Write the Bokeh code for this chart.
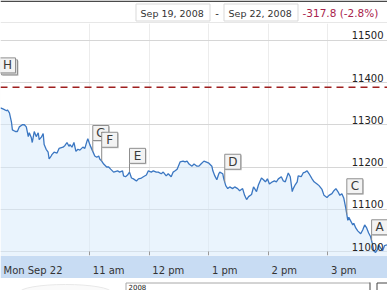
import numpy as np
from bokeh.plotting import figure
from bokeh.models import Range1d, FixedTicker, LinearAxis, Grid, Span
from bokeh.layouts import column
from bokeh.embed import file_html
from bokeh.resources import INLINE
from bokeh.core.properties import value

FONT = "DejaVu Sans"

# ---------------- data ----------------
# minutes after the 9:30 open, Mon Sep 22 2008 (Dow Jones, intraday)
minutes = [0, 3, 6, 7, 9, 11, 12, 15, 17, 19, 22, 24, 26, 28, 29, 31, 32, 34, 36, 38, 39, 41, 43, 44,
           46, 48, 49, 51, 52, 54, 57, 59, 63, 65, 67, 69, 70, 72, 74, 76, 78, 80, 83, 85, 87, 88,
           90, 93, 95, 97, 99, 100, 102, 104, 107, 109, 111, 114, 118, 120, 123, 124, 126, 128, 130,
           132, 134, 137, 139, 142, 144, 147, 149, 152, 154, 157, 159, 162, 164, 167, 169, 172, 174,
           176, 178, 181, 184, 186, 188, 190, 193, 195, 198, 200, 202, 205, 207, 210, 213, 214, 216,
           218, 220, 221, 224, 225, 227, 229, 231, 234, 236, 239, 241, 244, 246, 248, 250, 253, 255,
           258, 260, 263, 265, 267, 269, 271, 274, 276, 278, 280, 283, 285, 287, 289, 290, 292, 294,
           295, 297, 299, 300, 303, 305, 307, 309, 311, 314, 316, 319, 321, 324, 326, 329, 331, 334,
           336, 338, 340, 342, 344, 346, 348, 350, 351, 353, 355, 356, 358, 360, 363, 365, 367, 369,
           371, 373, 375, 376, 378, 380, 381, 383, 385, 387, 390]
prices = [11340, 11337, 11333, 11335, 11328, 11307, 11288, 11284, 11284, 11295, 11300, 11300, 11295,
          11272, 11281, 11270, 11258, 11284, 11272, 11281, 11265, 11270, 11279, 11253,
          11242, 11235, 11219, 11226, 11230, 11235, 11233, 11244, 11247, 11251, 11258, 11249, 11253,
          11247, 11258, 11237, 11242, 11240, 11247, 11244, 11260, 11267,
          11253, 11237, 11226, 11223, 11226, 11219, 11214, 11207, 11200, 11200, 11195, 11188, 11191,
          11188, 11191, 11179, 11177, 11181, 11188,
          11174, 11172, 11167, 11172, 11174, 11177, 11181, 11191, 11188, 11191, 11188, 11188, 11184,
          11188, 11179, 11184, 11177, 11188,
          11191, 11195, 11212, 11214, 11212, 11214, 11207, 11202, 11207, 11202, 11202, 11207, 11214,
          11212, 11209, 11202, 11191, 11179,
          11170, 11184, 11188, 11184, 11172, 11156, 11149, 11153, 11149, 11153, 11149, 11144, 11149,
          11133, 11123, 11130, 11135, 11153,
          11142, 11158, 11174, 11170, 11165, 11172, 11160, 11165, 11167, 11165, 11172, 11177, 11167,
          11165, 11179, 11186, 11177, 11142,
          11149, 11158, 11165, 11179, 11177, 11186, 11188, 11191, 11184, 11172, 11165, 11160, 11156,
          11147, 11133, 11128, 11133, 11137,
          11144, 11149, 11142, 11133, 11137, 11126, 11102, 11074, 11081, 11072, 11063, 11067, 11056,
          11049, 11042, 11051, 11063, 11056,
          11044, 11035, 11016, 11002, 10998, 11005, 11016, 11009, 11002, 11014, 11016]
prev_close = 11388.44

y_ticks = [11000, 11100, 11200, 11300, 11400, 11500]
hour_ticks = [90, 150, 210, 270, 330]
x_label_ticks = [0, 90, 150, 210, 270, 330]
x_labels = ["Mon Sep 22", "11 am", "12 pm", "1 pm", "2 pm", "3 pm"]

flag_letters = ["H", "G", "F", "E", "D", "C", "A"]
flag_minutes = [-1, 93, 102, 130, 226, 349, 374]
flag_levels = [11423, 11263, 11247, 11209, 11195, 11137, 11040]
flag_stack = [2, 1, 1, 1, 1, 1, 1]

header_from = "Sep 19, 2008"
header_to = "Sep 22, 2008"
header_change = "-317.8 (-2.8%)"
bottom_year = "2008"

# ---------------- layout constants ----------------
W = 387
HEADER_H = 23
FRAME_H = 236
BAND_H = 19
BOTTOM_H = 290 - HEADER_H - FRAME_H - BAND_H

X0, X1 = 0, 390
Y0, Y1 = 10990.7, 11539.5
min_per_px = (X1 - X0) / W
val_per_px = (Y1 - Y0) / FRAME_H

# DejaVu Sans advance widths at 10px
CW = {'M': 8.63, 'o': 6.12, 'n': 6.34, ' ': 3.18, 'S': 6.35, 'e': 6.15, 'p': 6.35,
      '1': 6.36, '2': 6.36, '3': 6.36, 'a': 6.13, 'm': 9.74}


def text_w(s, size=10):
    return sum(CW.get(c, 6.2) for c in s) * size / 10.0


# ---------------- header ----------------
h = figure(width=W, height=HEADER_H, x_range=Range1d(0, W), y_range=Range1d(HEADER_H, 0),
           x_axis_type=None, y_axis_type=None, output_backend="svg", toolbar_location=None,
           min_border=0, outline_line_color=None, background_fill_color="white",
           border_fill_color="white")
h.quad(left=[0], right=[W], top=[0], bottom=[1.5], fill_color="#4a4a4a", line_color=None)
h.quad(left=[135.5, 223.5], right=[209.5, 297.5], top=[3.5, 3.5], bottom=[20.5, 20.5],
       fill_color="white", line_color="#d9d9d9")
h.text(x=[140, 228], y=[12.5, 12.5], text=[header_from, header_to], text_align="left",
       text_baseline="middle", text_font=value(FONT), text_font_size="9.5px",
       text_color="#333333")
h.text(x=[216.5], y=[12], text=["-"], text_align="center", text_baseline="middle",
       text_font=value(FONT), text_font_size="10px", text_color="#333333")
h.text(x=[302], y=[12.5], text=[header_change], text_align="left", text_baseline="middle",
       text_font=value(FONT), text_font_size="10.5px", text_color="#a8234c")
h.segment(x0=[0], y0=[22.5], x1=[W], y1=[22.5], line_color="#cfcfcf", line_width=1)

# ---------------- main chart ----------------
p = figure(width=W, height=FRAME_H + BAND_H, x_range=Range1d(X0, X1), y_range=Range1d(Y0, Y1),
           x_axis_type=None, y_axis_type=None, output_backend="svg", toolbar_location=None,
           min_border_left=0, min_border_right=0, min_border_top=0, min_border_bottom=BAND_H,
           outline_line_color=None, background_fill_color="white",
           border_fill_color="#c8dcf3")

p.add_layout(Grid(dimension=0, ticker=FixedTicker(ticks=hour_ticks), grid_line_color="#ececec"))
p.add_layout(Grid(dimension=1, ticker=FixedTicker(ticks=y_ticks), grid_line_color="#d6d6d6"))

p.varea(x=minutes, y1=Y0, y2=prices, fill_color="#d6eafb", fill_alpha=0.5)
p.line(minutes, prices, line_color="#3b77c2", line_width=1.3)

p.add_layout(Span(location=prev_close, dimension="width", line_color="#9e1f1f",
                  line_dash="7 5", line_width=1.5))

# flags
BW, BH = 16, 15
base_vals = np.interp(flag_minutes, minutes, prices)
for letter, fm, lvl, base, stack in zip(flag_letters, flag_minutes, flag_levels, base_vals, flag_stack):
    p.segment(x0=[fm], y0=[base], x1=[fm], y1=[lvl], line_color="#8a8a8a", line_width=1)
    cx = fm + BW / 2 * min_per_px
    cy = lvl + BH / 2 * val_per_px
    for k in range(stack - 1, -1, -1):
        off = 2 * k
        p.rect(x=[cx + (1 + off) * min_per_px], y=[cy - (1 + off) * val_per_px], width=BW, height=BH,
               width_units="screen", height_units="screen", fill_color="#c4c4c4", line_color=None)
        p.rect(x=[cx + off * min_per_px], y=[cy - off * val_per_px], width=BW, height=BH,
               width_units="screen", height_units="screen", fill_color="#f3f3f3",
               line_color="#8f8f8f", line_width=1)
    p.text(x=[cx], y=[cy], text=[letter], text_align="center", text_baseline="middle",
           text_font=value(FONT), text_font_size="12px", text_color="#3a3a3a")

# x tick marks (pointing up into the chart)
tick_axis = LinearAxis(fixed_location=Y0, ticker=FixedTicker(ticks=hour_ticks),
                       major_tick_in=4, major_tick_out=0, major_tick_line_color="#9a9a9a",
                       minor_tick_line_color=None, axis_line_color=None,
                       major_label_text_font_size="0px", major_label_text_color=None,
                       major_label_standoff=0)
p.add_layout(tick_axis, "below")

# x labels, left-aligned just right of each tick
label_pos = [round(t + (3 + text_w(s) / 2) * min_per_px, 2) for t, s in zip(x_label_ticks, x_labels)]
label_axis = LinearAxis(ticker=FixedTicker(ticks=label_pos),
                        major_label_overrides={pos: s for pos, s in zip(label_pos, x_labels)},
                        major_tick_line_color=None, minor_tick_line_color=None,
                        axis_line_color=None, major_label_standoff=3,
                        major_label_text_font=FONT, major_label_text_font_size="10px",
                        major_label_text_color="#333333")
p.add_layout(label_axis, "below")

# y labels inside the chart, on the right, just above each gridline
lift = 5 * val_per_px
ylab_pos = [round(v + lift, 3) for v in y_ticks]
yaxis = LinearAxis(fixed_location=X1, ticker=FixedTicker(ticks=ylab_pos),
                   major_label_overrides={pos: str(v) for pos, v in zip(ylab_pos, y_ticks)},
                   major_tick_in=0, major_tick_out=0, major_tick_line_color=None,
                   minor_tick_line_color=None, axis_line_color=None, major_label_standoff=4,
                   major_label_text_font=FONT, major_label_text_font_size="10px",
                   major_label_text_color="#222222")
p.add_layout(yaxis, "left")

# ---------------- bottom strip ----------------
b = figure(width=W, height=BOTTOM_H, x_range=Range1d(0, W), y_range=Range1d(BOTTOM_H, 0),
           x_axis_type=None, y_axis_type=None, output_backend="svg", toolbar_location=None,
           min_border=0, outline_line_color=None, background_fill_color="white",
           border_fill_color="white")
b.ellipse(x=[65], y=[14], width=92, height=16, fill_color="#fafafa", line_color="#e8e8e8")
b.segment(x0=[125.5, 125.5], y0=[4.5, 4.5], x1=[369.5, 125.5], y1=[4.5, BOTTOM_H],
          line_color="#a8a8a8", line_width=1)
b.segment(x0=[369.5, 376.5, 376.5], y0=[4, 4.5, 4.5], x1=[369.5, 376.5, W], y1=[BOTTOM_H, BOTTOM_H, 4.5],
          line_color="#444444", line_width=1)
b.text(x=[128], y=[8], text=[bottom_year], text_align="left", text_baseline="middle",
       text_font=value(FONT), text_font_size="7px", text_color="#222222")

layout = column(h, p, b, spacing=0)
open("out.html", "w").write(file_html(layout, INLINE, "Dow Jones intraday"))
